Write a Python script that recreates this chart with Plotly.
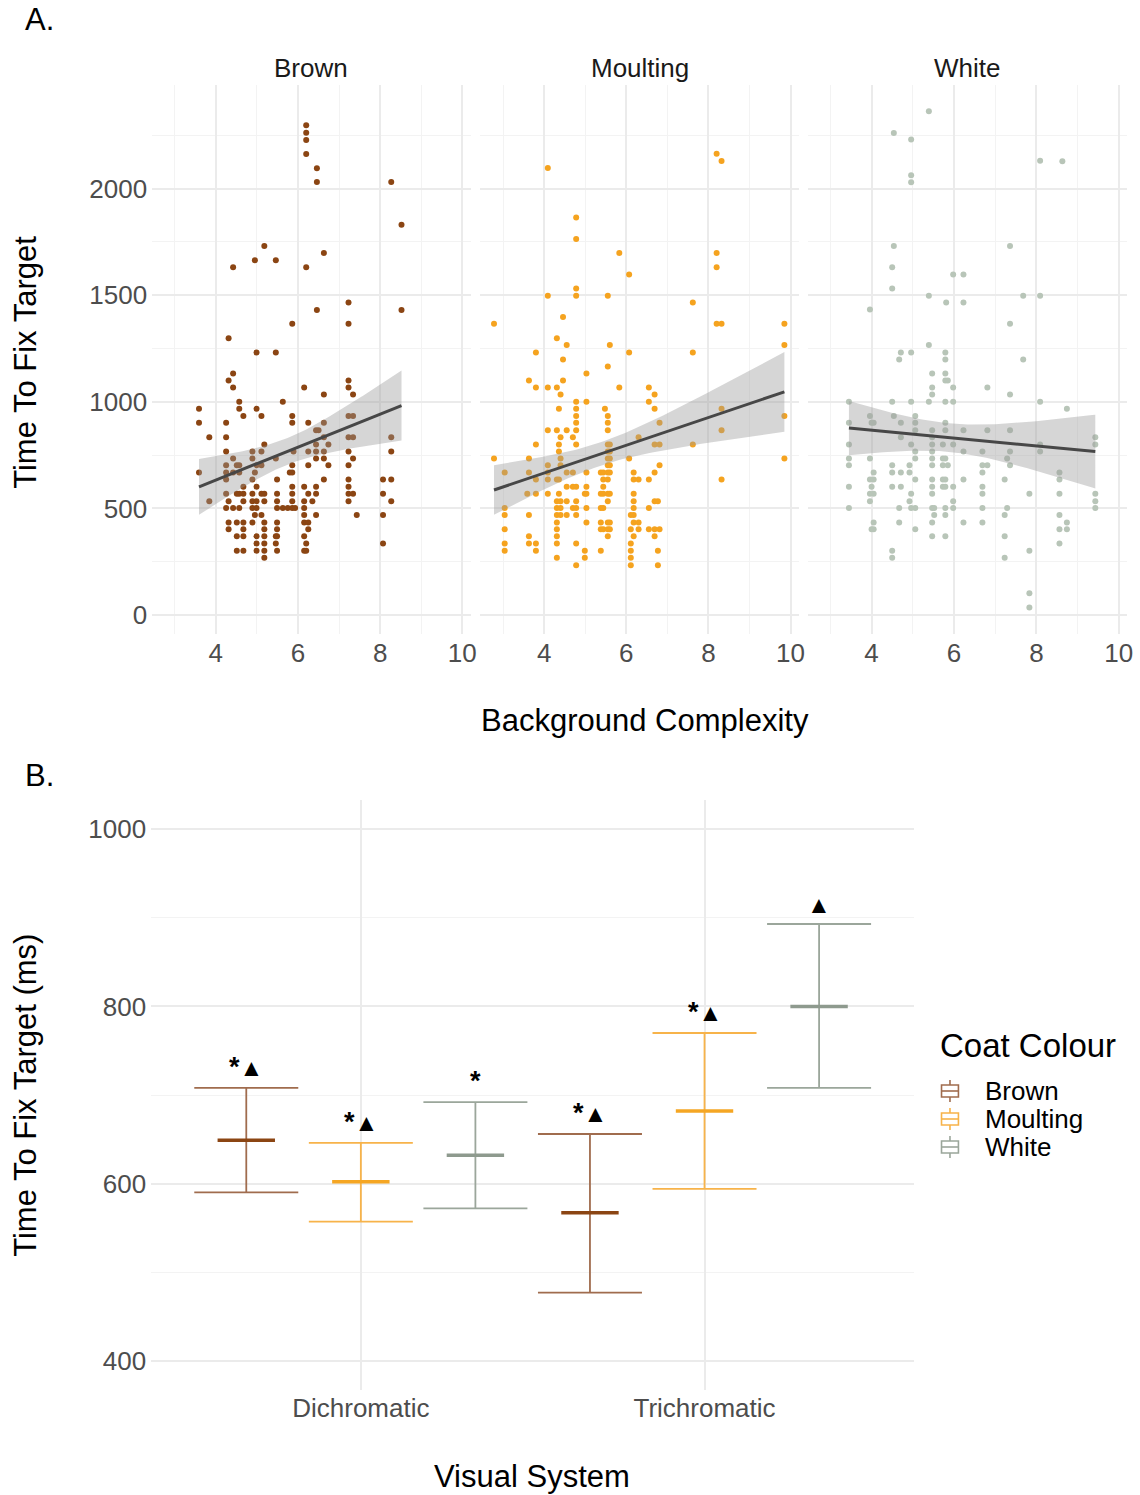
import numpy as np
import plotly.graph_objects as go

W, H = 1140, 1495
FONT = "Liberation Sans, Arial, Helvetica, sans-serif"
TICK_COL = "#4D4D4D"

# ---------------- Panel A data: time to fix target (ms) rows with their background complexity values
facets = ["Brown", "Moulting", "White"]

brown_ms = [2297, 2262, 2228, 2162, 2095, 2031, 1831, 1731, 1698, 1664, 1631, 1466, 1431, 1366, 1298, 1231,
            1133, 1100, 1067, 1034, 1000, 967, 934, 902, 867, 834, 800, 767, 734, 702, 669, 636, 602, 569,
            534, 502, 469, 434, 402, 369, 336, 302, 269]
brown_cx = [
    [6.20], [6.20], [6.20], [6.20], [6.46], [6.46, 8.27], [8.52], [5.18], [6.63], [4.95, 5.46],
    [4.42, 6.20], [7.23], [6.46, 8.52], [5.86, 7.23], [4.31], [4.99, 5.46],
    [4.42],
    [4.31, 7.23],
    [4.42, 6.15, 7.23],
    [6.63, 7.34],
    [4.57, 5.63],
    [3.59, 4.57, 4.99],
    [4.67, 5.11, 5.86, 7.23, 7.34],
    [3.59, 4.25, 5.86, 6.25, 6.63],
    [6.44, 6.50],
    [3.84, 4.25, 6.63, 7.23, 7.34, 8.27],
    [5.18, 6.44, 6.74],
    [4.25, 4.89, 5.11, 5.89, 6.25, 6.44, 6.63, 7.23, 8.27],
    [4.42, 4.89, 5.46, 6.44, 6.63, 7.34],
    [4.25, 4.51, 4.57, 4.99, 5.11, 5.86, 6.25, 6.74, 7.23],
    [3.59, 4.25, 4.42, 4.57, 4.95, 5.80, 5.86],
    [4.25, 4.89, 5.49, 6.63, 7.23, 8.07, 8.27],
    [4.67, 4.99, 5.86, 6.15, 6.44, 7.23],
    [4.25, 4.51, 4.57, 4.67, 4.89, 5.11, 5.18, 5.49, 5.86, 6.25, 6.44, 7.23, 7.34, 8.07],
    [3.84, 4.31, 4.67, 4.89, 4.99, 5.18, 5.49, 5.86, 6.15, 6.35, 7.23, 8.27],
    [4.25, 4.42, 4.57, 4.89, 4.99, 5.49, 5.63, 5.75, 5.86, 5.93, 6.15],
    [4.95, 5.11, 6.15, 6.44, 7.43, 8.07],
    [4.31, 4.51, 4.67, 4.89, 5.18, 5.49, 6.15, 6.25],
    [4.31, 4.67, 5.18, 5.49, 6.25],
    [4.51, 4.67, 4.99, 5.18, 5.46, 5.49, 6.15],
    [4.99, 5.18, 5.46, 6.20, 8.07],
    [4.51, 4.67, 4.99, 5.18, 5.49, 6.15, 6.20],
    [5.18],
]

moult_ms = [2164, 2130, 2097, 1864, 1764, 1698, 1631, 1597, 1531, 1498, 1466, 1398, 1366, 1298, 1266, 1231, 1198,
            1166, 1133, 1100, 1067, 1034, 1000, 967, 934, 902, 867, 834, 800, 767, 734, 702, 669, 636, 602, 569,
            534, 502, 469, 434, 402, 369, 336, 302, 269, 234]
moult_cx = [
    [8.20], [8.32], [4.09], [4.78], [4.78], [5.83, 8.20], [8.20], [6.07], [4.78], [4.09, 4.78, 5.55],
    [7.62], [4.46], [2.78, 8.20, 8.32, 9.85], [4.31], [4.55, 5.60, 9.85], [3.80, 6.07, 7.62], [4.46],
    [5.55],
    [5.03],
    [3.63, 4.46],
    [3.80, 4.09, 4.31, 5.83, 6.55],
    [4.40, 6.69],
    [4.78, 5.03, 6.55],
    [4.36, 4.78, 5.48, 6.69, 8.32],
    [4.78, 5.55, 9.85],
    [4.78, 5.55, 6.81],
    [4.09, 4.31, 4.55, 4.78, 5.55, 8.32],
    [4.40, 4.70, 6.30],
    [3.80, 4.36, 4.78, 5.55, 5.60, 6.69, 6.81, 7.62],
    [4.36, 5.55, 5.60],
    [2.78, 3.63, 4.40, 5.55, 5.60, 6.07, 9.85],
    [4.09, 4.40, 5.55, 5.60, 6.81],
    [3.04, 3.63, 4.09, 4.55, 4.70, 5.03, 5.38, 5.44, 5.55, 5.60, 6.18, 6.69],
    [3.80, 4.09, 4.31, 4.36, 5.44, 5.55, 6.18, 6.30, 6.55, 8.32],
    [4.55, 4.70, 4.78, 5.03, 5.44],
    [3.59, 3.80, 4.09, 4.36, 4.99, 5.03, 5.38, 5.44, 5.55, 5.60, 6.18],
    [4.31, 4.40, 4.55, 4.78, 5.55, 6.18, 6.69, 6.77],
    [3.04, 4.31, 4.40, 4.70, 4.78, 5.03, 5.38, 5.44, 6.18, 6.55],
    [3.04, 3.63, 4.31, 4.40, 4.55, 4.78, 6.11, 6.18],
    [4.31, 5.03, 5.38, 5.55, 5.60, 6.18, 6.30],
    [3.04, 4.31, 5.38, 5.44, 5.55, 5.60, 6.11, 6.30, 6.55, 6.69, 6.81],
    [3.63, 4.31, 5.55, 6.18, 6.69],
    [3.04, 3.63, 3.80, 4.31, 4.78, 6.11],
    [3.04, 3.80, 4.99, 5.38, 6.11, 6.77],
    [4.31, 4.99, 6.11],
    [4.78, 6.11, 6.77],
]

white_ms = [2363, 2261, 2230, 2131, 2128, 2063, 2030, 1731, 1631, 1597, 1531, 1498, 1466, 1433, 1366, 1266, 1231, 1198,
            1133, 1100, 1067, 1034, 1000, 967, 934, 902, 867, 834, 800, 767, 734, 702, 669, 636, 602, 569,
            534, 502, 469, 434, 402, 369, 336, 302, 269, 102, 35]
white_cx = [
    [5.39], [4.54], [4.96], [8.09], [8.63], [4.96], [4.96], [4.54, 7.36], [4.50], [5.98, 6.23], [4.50],
    [5.39, 7.68, 8.09], [5.81, 6.23], [3.96], [7.36], [5.39], [4.71, 4.96, 5.79], [4.67, 5.79, 7.68],
    [5.47, 5.79],
    [5.79, 5.85],
    [5.47, 5.98, 6.81],
    [5.47, 7.36],
    [3.45, 4.50, 4.96, 5.39, 5.79, 5.98, 8.09],
    [8.74],
    [3.96, 4.54, 5.06],
    [3.45, 4.00, 4.05, 4.71, 5.06, 5.79],
    [5.06, 5.47, 5.79, 6.23, 6.81, 7.36],
    [4.71, 5.47, 9.43],
    [3.45, 4.96, 5.47, 5.73, 5.98, 8.09, 9.43],
    [5.06, 5.47, 6.23, 6.69, 7.36, 8.09],
    [3.45, 3.96, 5.06, 5.47, 5.73, 5.79, 7.29],
    [3.45, 4.50, 4.92, 5.47, 5.73, 5.85, 6.69, 6.81, 7.36],
    [4.05, 4.50, 4.71, 4.92, 6.69, 8.56],
    [3.96, 4.05, 5.06, 5.47, 5.73, 5.79, 6.23, 7.23, 8.56],
    [3.45, 4.00, 4.50, 4.71, 5.47, 5.73, 5.79, 5.98, 6.69],
    [3.96, 4.05, 4.96, 5.47, 6.69, 7.83, 8.56, 9.43],
    [3.96, 4.92, 5.98, 9.43],
    [3.45, 4.67, 4.96, 5.06, 5.47, 5.52, 5.79, 5.98, 6.69, 7.29, 9.43],
    [5.52, 5.79, 7.23, 8.56],
    [4.05, 4.67, 5.47, 6.23, 6.69, 8.74],
    [4.00, 4.05, 5.06, 8.56, 8.74],
    [5.47, 5.79, 7.23],
    [8.56],
    [4.50, 7.83],
    [4.50, 7.23],
    [7.83],
    [7.83],
]

x_ticks_a = [4, 6, 8, 10]
y_ticks_a = [0, 500, 1000, 1500, 2000]

# ---------------- Panel B data: mean time to fix target with interval limits
visual_system = ["Dichromatic", "Trichromatic"]
coat = ["Brown", "Moulting", "White"]
brown_mean = [649, 567]
brown_low = [590, 477]
brown_high = [708, 656]
moult_mean = [602, 682]
moult_low = [557, 594]
moult_high = [646, 770]
white_mean = [632, 800]
white_low = [572, 708]
white_high = [692, 893]
brown_sig = ["*\u25B2", "*\u25B2"]
moult_sig = ["*\u25B2", "*\u25B2"]
white_sig = ["*", "\u25B2"]
y_ticks_b = [400, 600, 800, 1000]

# ---------------- styling
point_col = {"Brown": "#8B4513", "Moulting": "#F5A31F", "White": "#B8C5B8"}
bar_col = {"Brown": "#A06C4E", "Moulting": "#F7B34A", "White": "#9BA69B"}
mean_col = {"Brown": "#8B4513", "Moulting": "#F5A623", "White": "#8E9A8E"}


def px_x(p):
    return p / W


def px_y(p):
    return 1 - p / H


def flatten(ms, cx):
    xs, ys = [], []
    for y, row in zip(ms, cx):
        for x in row:
            xs.append(x)
            ys.append(y)
    return np.array(xs, float), np.array(ys, float)


def lm_band(x, y, n=80, t=1.97):
    X = np.column_stack([np.ones_like(x), x])
    beta, *_ = np.linalg.lstsq(X, y, rcond=None)
    resid = y - X @ beta
    s2 = resid @ resid / (len(x) - 2)
    cov = s2 * np.linalg.inv(X.T @ X)
    xg = np.linspace(x.min(), x.max(), n)
    Xg = np.column_stack([np.ones_like(xg), xg])
    fit = Xg @ beta
    se = np.sqrt(np.einsum("ij,jk,ik->i", Xg, cov, Xg))
    return xg, fit, fit - t * se, fit + t * se


def sig_markup(s):
    # the asterisk is set a little heavier so it sits level with the triangle
    return s.replace("*", "<b><span style='font-size:27px'>*</span></b>")


fig = go.Figure()

facet_data = {
    "Brown": flatten(brown_ms, brown_cx),
    "Moulting": flatten(moult_ms, moult_cx),
    "White": flatten(white_ms, white_cx),
}

facet_dom = [(153, 473), (483, 803), (812, 1133)]
a_top, a_bot = 85, 634

for i, name in enumerate(facets):
    sfx = "" if i == 0 else str(i + 1)
    xa, ya = "x" + sfx, "y" + sfx
    x, y = facet_data[name]
    fig.add_trace(go.Scatter(x=x, y=y, mode="markers", xaxis=xa, yaxis=ya,
                             marker=dict(size=6, color=point_col[name]), showlegend=False))
    xg, fit, lo, hi = lm_band(x, y)
    fig.add_trace(go.Scatter(x=np.concatenate([xg, xg[::-1]]), y=np.concatenate([hi, lo[::-1]]),
                             mode="lines", fill="toself", fillcolor="rgba(153,153,153,0.4)",
                             line=dict(width=0), xaxis=xa, yaxis=ya, showlegend=False, hoverinfo="skip"))
    fig.add_trace(go.Scatter(x=xg, y=fit, mode="lines", line=dict(color="#474747", width=3),
                             xaxis=xa, yaxis=ya, showlegend=False))

grid_major = dict(showgrid=True, gridcolor="#EBEBEB", gridwidth=1.6)
minor_grid = dict(showgrid=True, gridcolor="#F3F3F3", gridwidth=1)
tickfont = dict(family=FONT, size=26, color=TICK_COL)

layout = dict(
    width=W, height=H, margin=dict(l=0, r=0, t=0, b=0),
    paper_bgcolor="white", plot_bgcolor="white",
    font=dict(family=FONT, color="#000000"),
    showlegend=False,
)

for i, name in enumerate(facets):
    sfx = "" if i == 0 else str(i + 1)
    l, r = facet_dom[i]
    layout["xaxis" + sfx] = dict(
        domain=[px_x(l), px_x(r)], range=[2.45, 10.2], anchor="y" + sfx,
        tickvals=x_ticks_a, ticktext=[str(v) for v in x_ticks_a], tickfont=tickfont,
        ticks="", zeroline=False, showline=False, **grid_major,
        minor=dict(dtick=1, tick0=3, **minor_grid), ticklabelstandoff=1,
    )
    layout["yaxis" + sfx] = dict(
        domain=[px_y(a_bot), px_y(a_top)], range=[-89, 2486], anchor="x" + sfx,
        tickvals=y_ticks_a, ticktext=[str(v) for v in y_ticks_a], tickfont=tickfont,
        showticklabels=(i == 0), ticks="", zeroline=False, showline=False, **grid_major,
        minor=dict(dtick=250, tick0=250, **minor_grid), ticklabelstandoff=4,
    )

# ---------------- Panel B
b_left, b_right, b_top, b_bot = 152, 919, 800, 1390
layout["xaxis4"] = dict(
    domain=[px_x(b_left), px_x(b_right)], range=[0.39, 2.61], anchor="y4",
    tickvals=[1, 2], ticktext=visual_system, tickfont=tickfont, ticks="",
    zeroline=False, showline=False, **grid_major, ticklabelstandoff=0,
)
layout["yaxis4"] = dict(
    domain=[px_y(b_bot), px_y(b_top)], range=[367, 1033], anchor="x4",
    tickvals=y_ticks_b, ticktext=[str(v) for v in y_ticks_b], tickfont=tickfont, ticks="",
    zeroline=False, showline=False, **grid_major,
    minor=dict(dtick=100, tick0=500, **minor_grid), ticklabelstandoff=4,
)

groups = [
    ("Brown", brown_mean, brown_low, brown_high, brown_sig),
    ("Moulting", moult_mean, moult_low, moult_high, moult_sig),
    ("White", white_mean, white_low, white_high, white_sig),
]
dodge = [-1 / 3, 0, 1 / 3]
annotations = []
for k, (name, mean, low, high, sig) in enumerate(groups):
    xs = [j + 1 + dodge[k] for j in range(len(visual_system))]
    mean = np.array(mean, float)
    fig.add_trace(go.Scatter(
        x=xs, y=mean, mode="markers", xaxis="x4", yaxis="y4", showlegend=False,
        marker=dict(symbol="line-ew", size=41, color=mean_col[name],
                    line=dict(color=mean_col[name], width=3.5)),
        error_y=dict(type="data", symmetric=False, array=np.array(high) - mean,
                     arrayminus=mean - np.array(low), width=52, thickness=1.8,
                     color=bar_col[name]),
    ))
    for xv, hv, s in zip(xs, high, sig):
        annotations.append(dict(x=xv, y=hv, xref="x4", yref="y4", text=sig_markup(s), showarrow=False,
                                yanchor="bottom", yshift=4, font=dict(family=FONT, size=24, color="#000000")))

# ---------------- titles and labels
annotations += [
    dict(x=px_x(23), y=px_y(20), xref="paper", yref="paper", text="A.", showarrow=False,
         xanchor="left", yanchor="middle", font=dict(family=FONT, size=31, color="#000000")),
    dict(x=px_x(23), y=px_y(775), xref="paper", yref="paper", text="B.", showarrow=False,
         xanchor="left", yanchor="middle", font=dict(family=FONT, size=31, color="#000000")),
    dict(x=px_x(648), y=px_y(720), xref="paper", yref="paper", text="Background Complexity",
         showarrow=False, xanchor="center", yanchor="middle", font=dict(family=FONT, size=31, color="#000000")),
    dict(x=px_x(25), y=px_y(362), xref="paper", yref="paper", text="Time To Fix Target", textangle=-90,
         showarrow=False, xanchor="center", yanchor="middle", font=dict(family=FONT, size=31, color="#000000")),
    dict(x=px_x(535), y=px_y(1476), xref="paper", yref="paper", text="Visual System",
         showarrow=False, xanchor="center", yanchor="middle", font=dict(family=FONT, size=31, color="#000000")),
    dict(x=px_x(25), y=px_y(1095), xref="paper", yref="paper", text="Time To Fix Target (ms)", textangle=-90,
         showarrow=False, xanchor="center", yanchor="middle", font=dict(family=FONT, size=31, color="#000000")),
    dict(x=px_x(943), y=px_y(1045), xref="paper", yref="paper", text="Coat Colour",
         showarrow=False, xanchor="left", yanchor="middle", font=dict(family=FONT, size=33, color="#000000")),
]
for i, name in enumerate(facets):
    l, r = facet_dom[i]
    annotations.append(dict(x=px_x((l + r) / 2), y=px_y(68), xref="paper", yref="paper", text=name,
                            showarrow=False, xanchor="center", yanchor="middle",
                            font=dict(family=FONT, size=26, color="#1A1A1A")))

# legend keys drawn as small boxplot glyphs
shapes = []
legend_rows = [1091, 1119, 1147]
for name, yc in zip(coat, legend_rows):
    c = bar_col[name]
    cx = 955
    hw, hh, wh = 8.5, 6, 11
    shapes.append(dict(type="rect", xref="paper", yref="paper", x0=px_x(cx - hw), x1=px_x(cx + hw),
                       y0=px_y(yc - hh), y1=px_y(yc + hh), line=dict(color=c, width=1.6),
                       fillcolor="white"))
    shapes.append(dict(type="line", xref="paper", yref="paper", x0=px_x(cx - hw), x1=px_x(cx + hw),
                       y0=px_y(yc), y1=px_y(yc), line=dict(color=c, width=1.6)))
    shapes.append(dict(type="line", xref="paper", yref="paper", x0=px_x(cx), x1=px_x(cx),
                       y0=px_y(yc - wh), y1=px_y(yc - hh), line=dict(color=c, width=1.6)))
    shapes.append(dict(type="line", xref="paper", yref="paper", x0=px_x(cx), x1=px_x(cx),
                       y0=px_y(yc + hh), y1=px_y(yc + wh), line=dict(color=c, width=1.6)))
    annotations.append(dict(x=px_x(988), y=px_y(yc), xref="paper", yref="paper", text=name,
                            showarrow=False, xanchor="left", yanchor="middle",
                            font=dict(family=FONT, size=26, color="#000000")))

layout["annotations"] = annotations
layout["shapes"] = shapes
fig.update_layout(**layout)

fig.write_html("out.html")
